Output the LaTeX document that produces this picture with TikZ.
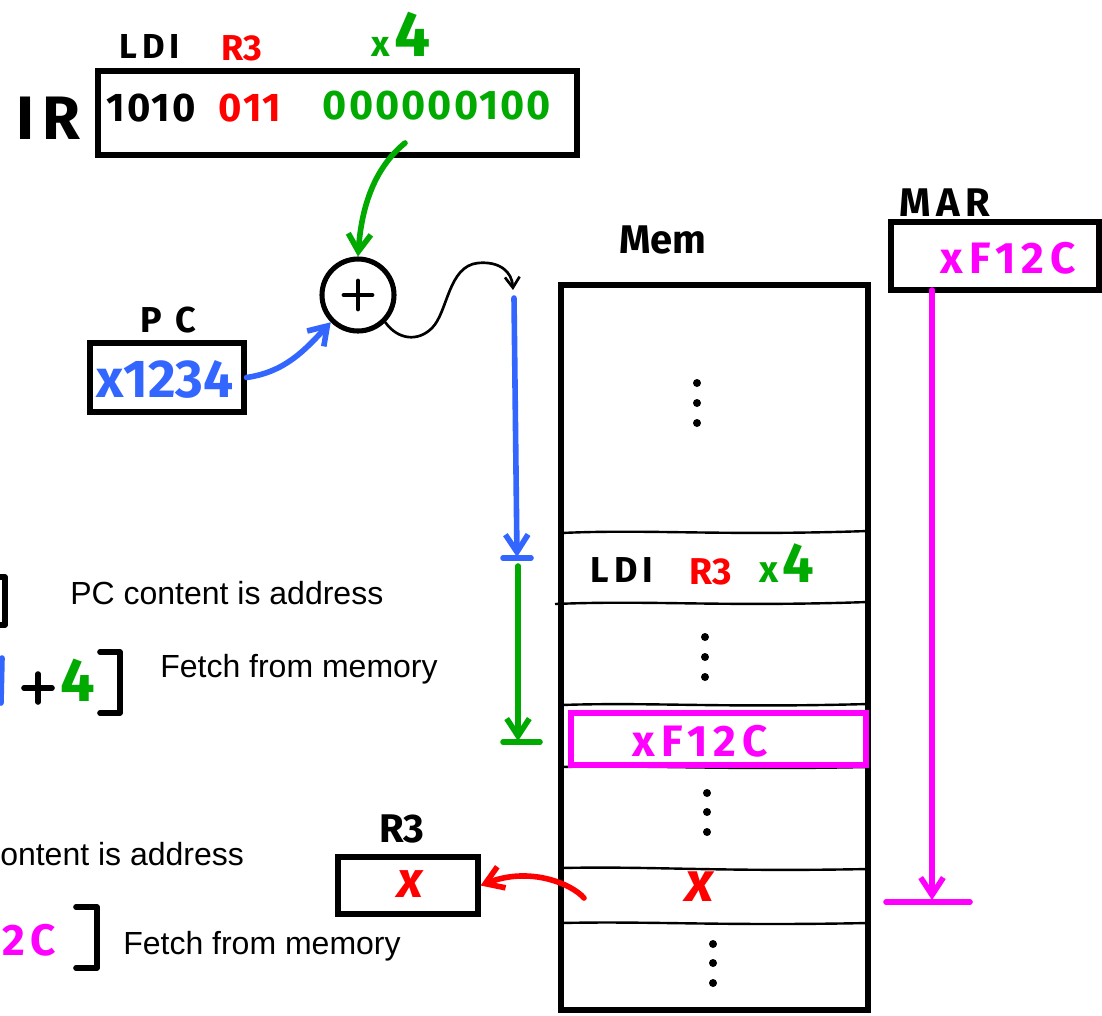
\documentclass[tikz,border=0pt]{standalone}
\usepackage{fontspec}
\setmainfont{Liberation Sans}
\newfontfamily\hand{Fira Sans}
\newfontfamily\handwide{Fira Sans}[LetterSpace=14]
\newfontfamily\handmid{Fira Sans}[LetterSpace=5]
\usetikzlibrary{arrows.meta}
\definecolor{hgreen}{RGB}{0,170,0}
\definecolor{hred}{RGB}{255,0,0}
\definecolor{hblue}{RGB}{51,102,255}
\definecolor{hmag}{RGB}{255,0,255}
\tikzset{
 regbox/.style={draw, line width=3.8pt, inner sep=0pt},
 hw/.style={font=\hand\bfseries\fontsize{#1}{#1}\selectfont, inner sep=0pt},
 hwide/.style={font=\handwide\bfseries\fontsize{#1}{#1}\selectfont, inner sep=0pt},
 typed/.style={font=\fontsize{24}{28}\selectfont, inner sep=0pt},
 pen/.style={line width=4.2pt, line cap=round, line join=round},
 tipv/.style={-{Straight Barb[length=13pt,width=17pt]}},
 divider/.style={line width=1.8pt},
}
\begin{document}
\begin{tikzpicture}[x=0.75pt,y=-0.75pt]
\useasboundingbox (0,0) rectangle (1102,1015);
\clip (0,0) rectangle (1102,1015);
\fill[white] (0,0) rectangle (1102,1015);

% ---------- IR ----------
\node[font=\hand\bfseries\fontsize{46}{46}\selectfont, inner sep=0pt] (irlab) at (48,118) {I\hspace{6pt}R};
\node[regbox, minimum width=359.25pt, minimum height=63pt] (ir) at (337.5,113) {};
\node[hwide=26] (ldi) at (150,46) {LDI};
\node[hw=27, text=hred] (r3a) at (242,48) {R3};
\node[hw=27, text=hgreen, anchor=base] (x4a) at (401,56) {x\hspace{4pt}\fontsize{48}{48}\selectfont4};
\node[font=\handmid\bfseries\fontsize{30}{30}\selectfont, inner sep=0pt] (opc) at (151,108) {1010};
\node[font=\handmid\bfseries\fontsize{30}{30}\selectfont, text=hred, inner sep=0pt] (dr) at (250,108) {011};
\node[font=\handmid\bfseries\fontsize{31}{31}\selectfont, text=hgreen, inner sep=0pt] (off) at (437,106) {000000100};
\coordinate (irout) at (405,143);

% ---------- adder ----------
\node[circle, draw, line width=3.8pt, minimum size=54pt, inner sep=0pt] (add) at (358,295) {};
\draw[line width=3.6pt, line cap=round] (add.center) ++(-14,0) -- ++(28,0);
\draw[line width=3.6pt, line cap=round] (add.center) ++(0,-14) -- ++(0,28);

% ---------- PC ----------
\node[hw=27] (pclab) at (168,320) {P\hspace{10pt}C};
\node[regbox, minimum width=115.5pt, minimum height=51.75pt] (pc) at (167,377.5) {};
\node[hw=40, text=hblue] (pcv) at (165,379) {x1234};

% ---------- Mem ----------
\node[hw=30] (memlab) at (663,240) {Mem};
\node[regbox, minimum width=230.25pt, minimum height=543.75pt] (mem) at (714.5,647.5) {};
\draw[divider] (561,533) .. controls (650,529) and (720,536) .. (868,531);
\draw[divider] (555,604) .. controls (650,600) and (720,607) .. (868,602);
\draw[divider] (561,705) .. controls (650,702) and (720,708) .. (868,704);
\draw[divider] (561,767) .. controls (650,765) and (720,770) .. (868,767);
\draw[divider] (561,868) .. controls (650,866) and (720,872) .. (868,869);
\draw[divider] (561,923) .. controls (650,921) and (720,926) .. (868,923);
\foreach \x/\y in {697/383,697/403,697/423, 705/637,705/657,705/677, 707/793,707/812,707/832, 713/944,713/963,713/983}
  \fill (\x,\y) circle (4);
\node[hwide=27] (mldi) at (622,570) {LDI};
\node[hw=28, text=hred] (mr3) at (711,572) {R3};
\node[hw=28, text=hgreen, anchor=base] (mx4) at (787,582) {x\hspace{3pt}\fontsize{42}{42}\selectfont4};
\node[draw=hmag, line width=3.8pt, minimum width=221.25pt, minimum height=39pt, inner sep=0pt] (ptr) at (718.5,739) {};
\node[hwide=33, text=hmag] (ptrv) at (700,741) {xF12C};
\node[font=\hand\bfseries\itshape\fontsize{42}{42}\selectfont, text=hred, inner sep=0pt] (memx) at (700,887) {x};

% ---------- MAR ----------
\node[hwide=30] (marlab) at (945,203) {MAR};
\node[regbox, minimum width=156pt, minimum height=51pt] (mar) at (995,256) {};
\node[hwide=33, text=hmag] (marv) at (1008,258) {xF12C};

% ---------- R3 ----------
\node[hw=30] (r3lab) at (402,829) {R3};
\node[regbox, minimum width=105pt, minimum height=42.75pt] (r3) at (408,885.5) {};
\node[font=\hand\bfseries\itshape\fontsize{38}{38}\selectfont, text=hred, inner sep=0pt] (r3v) at (410,884) {x};

% ---------- connectors ----------
\draw[pen, hgreen, tipv] (irout) .. controls (378,165) and (362,200) .. (add.north);
\draw[pen, hblue, tipv] (pc.east) .. controls (285,372) and (305,350) .. (add.south west);
\coordinate (wavyend) at (513,290);
\draw[line width=2pt, line cap=round, -{Straight Barb[length=8pt,width=11pt]}] (add.south east) .. controls (398,340) and (418,342) .. (432,328) .. controls (448,312) and (448,266) .. (478,263) .. controls (500,261) and (512,272) .. (wavyend);
\coordinate (b0) at (514,298);
\coordinate (b1) at (517,557);
\coordinate (b1l) at (503,558);
\coordinate (b1r) at (531,558);
\draw[pen, hblue, tipv] (b0) -- (b1);
\draw[pen, hblue] (b1l) -- (b1r);
\coordinate (g0) at (518,566);
\coordinate (g1) at (518,741);
\coordinate (g1l) at (503,742);
\coordinate (g1r) at (540,742);
\draw[pen, hgreen, tipv] (g0) -- (g1);
\draw[pen, hgreen] (g1l) -- (g1r);
\coordinate (m0) at (932,290);
\coordinate (m1) at (932,900);
\coordinate (m1l) at (886,902);
\coordinate (m1r) at (970,902);
\draw[pen, hmag, tipv] (m0) -- (m1);
\draw[pen, hmag] (m1l) -- (m1r);
\coordinate (rx) at (584,898);
\draw[pen, hred, tipv] (rx) .. controls (572,884) and (530,866) .. (r3.east);

% ---------- left notes (cut off at the edge) ----------
\draw[pen] (-6,577) -- (5,577) -- (5,625) -- (-6,625);
\node[typed, anchor=west] (n1) at (70,593) {PC content is address};
\draw[pen, hblue] (2,658) -- (1,703);
\draw[pen] (24,688) -- (52,688);
\draw[pen] (38,674) -- (38,702);
\node[hw=46, text=hgreen] (n2c) at (78,680) {4};
\draw[pen] (100,652) -- (120,652) -- (120,713) -- (100,713);
\node[typed, anchor=west] (n2) at (160,669) {Fetch from memory};
\node[typed, anchor=west] (n3) at (0,854) {ontent is address};
\node[hwide=33, text=hmag, anchor=west] (n4a) at (2,940) {2C};
\draw[pen] (76,907) -- (97,907) -- (97,968) -- (76,968);
\node[typed, anchor=west] (n4) at (123,946) {Fetch from memory};
\end{tikzpicture}
\end{document}
